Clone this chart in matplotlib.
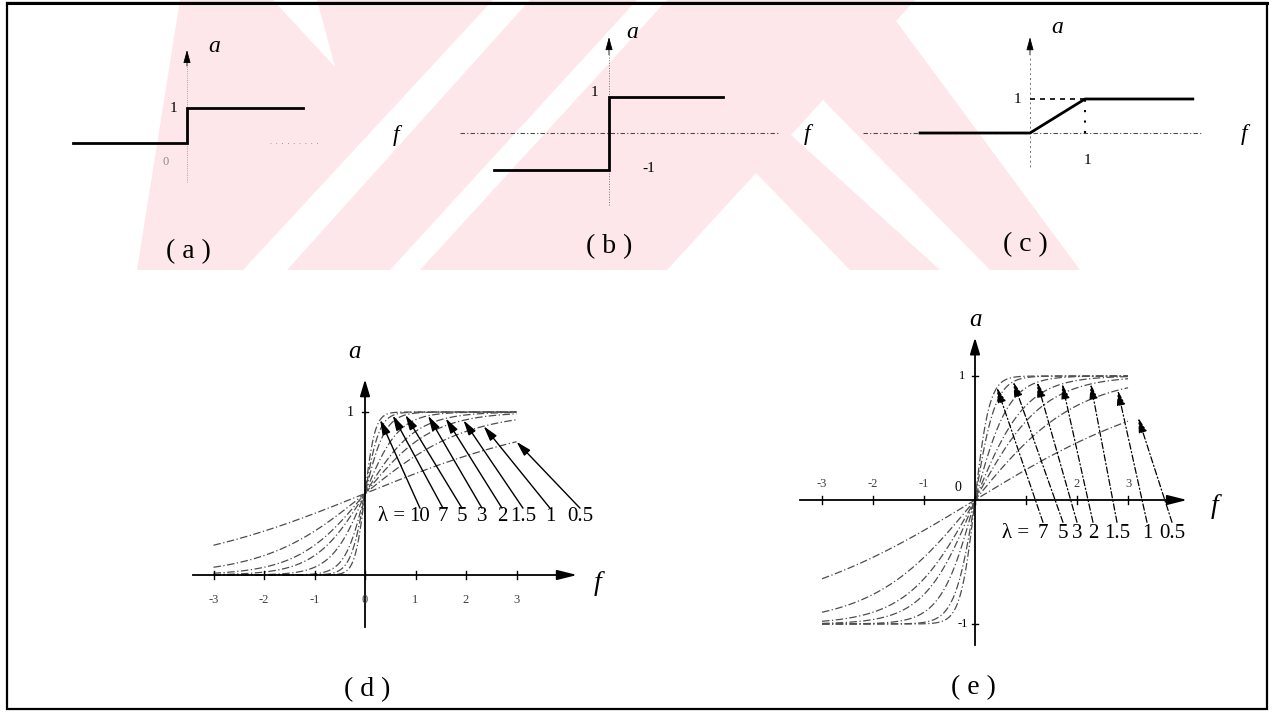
import numpy as np
import matplotlib.pyplot as plt
from matplotlib.patches import Polygon, Rectangle

# function values for the five activation panels
hard_f = [-2.07, 0, 0, 2.1]
hard_a = [0, 0, 1, 1]
sign_f = [-2.09, 0, 0, 2.07]
sign_a = [-1, -1, 1, 1]
ramp_f = [-2, 0, 1, 2.96]
ramp_a = [0, 0, 1, 1]

lambdas_d = [10, 7, 5, 3, 2, 1.5, 1, 0.5]
lambda_labels_d = ["10", "7", "5", "3", "2", "1.5", "1", "0.5"]
lambdas_e = [7, 5, 3, 2, 1.5, 1, 0.5]
lambda_labels_e = ["7", "5", "3", "2", "1.5", "1", "0.5"]

ticks = [-3, -2, -1, 0, 1, 2, 3]
tick_labels = ["-3", "-2", "-1", "0", "1", "2", "3"]

W, H = 1275, 712
SERIF = ["Liberation Serif", "DejaVu Serif"]
PINK = "#fde7eb"

fig = plt.figure(figsize=(W / 100, H / 100), dpi=100)
fig.patch.set_facecolor("white")

# background layer in pixel units: frame, watermark, captions
bg = fig.add_axes([0, 0, 1, 1])
bg.set_xlim(0, W)
bg.set_ylim(H, 0)
bg.axis("off")

# watermark: one pink outline with white gaps cut into it
wm_outline = [(180, 0), (915, 0), (896, 21), (1080, 270), (137, 270)]
wm_gaps = [
    [(273, 0), (317, 0), (335, 67)],
    [(493, 0), (530, 0), (287, 270), (243, 270)],
    [(637, 0), (667, 0), (420, 270), (390, 270)],
    [(823, 100), (990, 270), (940, 270), (791, 135)],
    [(756, 173), (850, 270), (667, 270)],
]
bg.add_patch(Polygon(wm_outline, closed=True, facecolor=PINK, edgecolor="none", zorder=0))
for gap in wm_gaps:
    bg.add_patch(Polygon(gap, closed=True, facecolor="white", edgecolor="none", zorder=0.5))

bg.add_patch(Rectangle((7, 3), 1260, 706, fill=False, edgecolor="black", lw=1.6, zorder=5))
bg.plot([7, 1267], [3, 3], color="black", lw=2.2, zorder=5)

for label, x, y in [("( a )", 188, 252), ("( b )", 609, 247), ("( c )", 1025, 245),
                    ("( d )", 367, 690), ("( e )", 973, 688)]:
    bg.text(x, y, label, family=SERIF, fontsize=20, ha="center", va="center")


def panel(box, origin, unit):
    # box in pixels (x0, y0, x1, y1), origin = pixel of f=0, a=0, unit = pixels per unit
    x0, y0, x1, y1 = box
    ax = fig.add_axes([x0 / W, 1 - y1 / H, (x1 - x0) / W, (y1 - y0) / H])
    ox, oy = origin
    ux, uy = unit
    ax.set_xlim((x0 - ox) / ux, (x1 - ox) / ux)
    ax.set_ylim((oy - y1) / uy, (oy - y0) / uy)
    ax.axis("off")
    ax.patch.set_alpha(0)
    return ax


def arrow(ax, tail, tip, lw=1.0, ls="-", hw=0.3, hl=0.9):
    ax.annotate("", xy=tip, xytext=tail,
                arrowprops=dict(arrowstyle=f"-|>,head_width={hw},head_length={hl}",
                                color="black", lw=lw, linestyle=ls,
                                shrinkA=0, shrinkB=0))


def txt(ax, x, y, s, size=11, italic=False, color="black", ha="center"):
    ax.text(x, y, s, family=SERIF, fontsize=size, style="italic" if italic else "normal",
            color=color, ha=ha, va="center")


# (a) hard limit
ax = panel((40, 20, 430, 210), (187, 143), (55, 35))
ax.plot([0, 0], [-1.1, 2.2], ls=":", lw=0.6, color="0.55")
arrow(ax, (0, 2.2), (0, 2.66), lw=0.6, hw=0.22, hl=0.8)
ax.plot(hard_f, hard_a, color="black", lw=2.0, solid_joinstyle="miter")
ax.plot([1.5, 2.4], [0, 0], ls=(0, (1, 6)), lw=0.6, color="0.5")
txt(ax, -0.25, 1.0, "1", 11)
txt(ax, -0.38, -0.55, "0", 9, color="0.55")
txt(ax, 0.5, 2.75, "a", 17, italic=True)
txt(ax, 3.8, 0.2, "f", 17, italic=True)

# (b) symmetric hard limit
ax = panel((440, 20, 840, 220), (609, 133), (55, 36.5))
ax.plot([-2.71, 3.07], [0, 0], ls=(0, (4, 2, 1, 2)), lw=0.8, color="0.3")
ax.plot([0, 0], [-1.97, 2.14], ls=":", lw=0.7, color="0.45")
arrow(ax, (0, 2.14), (0, 2.63), lw=0.6, hw=0.22, hl=0.8)
ax.plot(sign_f, sign_a, color="black", lw=2.0, solid_joinstyle="miter")
txt(ax, -0.27, 1.1, "1", 11)
txt(ax, 0.72, -0.96, "-1", 11)
txt(ax, 0.42, 2.75, "a", 17, italic=True)
txt(ax, 3.6, -0.05, "f", 17, italic=True)

# (c) saturating linear
ax = panel((850, 20, 1262, 200), (1030, 133), (55, 34))
ax.plot([-3.04, 3.13], [0, 0], ls=(0, (4, 2, 1, 2)), lw=0.8, color="0.3")
ax.plot([0, 0], [-1.0, 2.3], ls=(0, (2, 3)), lw=0.7, color="0.45")
arrow(ax, (0, 2.3), (0, 2.82), lw=0.6, hw=0.22, hl=0.8)
ax.plot([0, 1], [1, 1], ls=(0, (3, 3)), lw=1.2, color="black")
ax.plot([1, 1], [0, 1], ls=(0, (1, 4)), lw=1.5, color="black")
ax.plot(ramp_f, ramp_a, color="black", lw=2.0, solid_joinstyle="miter")
txt(ax, -0.22, 0.98, "1", 11)
txt(ax, 1.04, -0.8, "1", 11)
txt(ax, 0.49, 3.1, "a", 17, italic=True)
txt(ax, 3.9, -0.05, "f", 17, italic=True)

# (d) unipolar sigmoid
ax = panel((190, 340, 640, 645), (365, 575), (50.5, 163))
f = np.linspace(-3, 3, 600)
for lam in lambdas_d:
    ax.plot(f, 1 / (1 + np.exp(-lam * f)), ls=(0, (6, 2, 1, 2)), lw=0.9, color="0.3")
ax.plot([-3.4, 3.8], [0, 0], color="black", lw=1.3)
arrow(ax, (3.8, 0), (4.2, 0), lw=1.3, hw=0.3, hl=1.2)
ax.plot([0, 0], [-0.32, 1.09], color="black", lw=1.3)
arrow(ax, (0, 1.09), (0, 1.2), lw=1.3, hw=0.3, hl=1.0)
for t, s in zip(ticks, tick_labels):
    ax.plot([t, t], [-0.025, 0.025], color="black", lw=1.0)
    txt(ax, t, -0.155, s, 9, color="0.25")
ax.plot([-0.06, 0.06], [1, 1], color="black", lw=1.0)
txt(ax, -0.3, 1.0, "1", 10)
txt(ax, -0.2, 1.37, "a", 18, italic=True)
txt(ax, 4.6, -0.05, "f", 20, italic=True)

label_x_d = [420, 443, 462, 482, 502, 523, 550, 580]
tip_f_d = [0.3, 0.55, 0.8, 1.25, 1.6, 1.95, 2.35, 3.0]
txt(ax, (392 - 365) / 50.5, 0.36, "λ =", 15)
for lam, s, lx, tf in zip(lambdas_d, lambda_labels_d, label_x_d, tip_f_d):
    fx = (lx - 365) / 50.5
    txt(ax, fx, 0.36, s, 15)
    arrow(ax, (fx, 0.41), (tf, 1 / (1 + np.exp(-lam * tf))), lw=1.0, hw=0.25, hl=0.9)

# (e) bipolar sigmoid
ax = panel((780, 320, 1240, 665), (975, 500), (51, 124))
for lam in lambdas_e:
    ax.plot(f, np.tanh(lam * f / 2), ls=(0, (6, 2, 1, 2)), lw=0.9, color="0.3")
ax.plot([-3.43, 3.76], [0, 0], color="black", lw=1.3)
arrow(ax, (3.76, 0), (4.16, 0), lw=1.3, hw=0.3, hl=1.2)
ax.plot([0, 0], [-1.17, 1.19], color="black", lw=1.3)
arrow(ax, (0, 1.19), (0, 1.31), lw=1.3, hw=0.3, hl=1.0)
for t, s in zip(ticks, tick_labels):
    ax.plot([t, t], [-0.03, 0.03], color="black", lw=1.0)
    if t == 0:
        txt(ax, -0.33, 0.1, s, 10)
    elif t != 1:
        txt(ax, t, 0.13, s, 9, color="0.25")
for v, s in [(1, "1"), (-1, "-1")]:
    ax.plot([-0.06, 0.06], [v, v], color="black", lw=1.0)
    txt(ax, -0.25, v, s, 9)
txt(ax, 0.0, 1.45, "a", 18, italic=True)
txt(ax, 4.7, -0.05, "f", 20, italic=True)

label_x_e = [1043, 1063, 1077, 1093, 1117, 1147, 1172]
tip_f_e = [0.43, 0.75, 1.22, 1.71, 2.27, 2.8, 3.2]
txt(ax, (1016 - 975) / 51, -0.27, "λ =", 15)
for lam, s, lx, tf in zip(lambdas_e, lambda_labels_e, label_x_e, tip_f_e):
    fx = (lx - 975) / 51
    txt(ax, fx, -0.27, s, 15)
    arrow(ax, (fx, -0.18), (tf, np.tanh(lam * tf / 2)), lw=0.9, ls=(0, (5, 2, 1, 2)),
          hw=0.25, hl=0.9)

fig.savefig("out.png", dpi=100)
